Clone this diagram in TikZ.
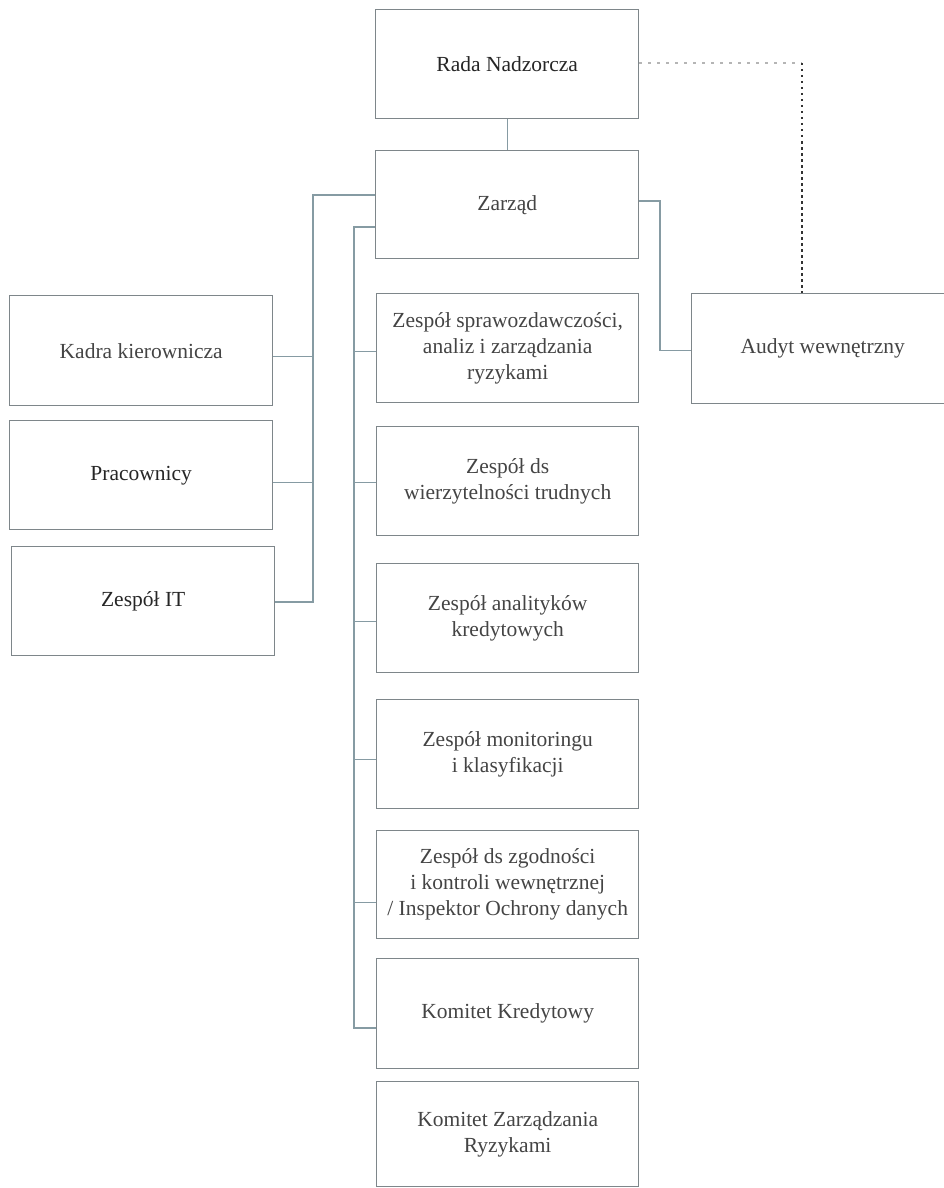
\documentclass[tikz,border=0pt]{standalone}
\usepackage{fontspec}
\setmainfont{Liberation Serif}
\definecolor{boxline}{HTML}{7E868A}
\definecolor{connline}{HTML}{869BA3}
\definecolor{txt}{HTML}{444444}
\definecolor{txtdark}{HTML}{262626}
\definecolor{dashlight}{HTML}{B5B5B5}
\definecolor{dotdark}{HTML}{333333}
\begin{document}
\begin{tikzpicture}[x=1pt,y=-1pt,
  unit/.style={draw=boxline, line width=1.4pt, rectangle, anchor=north west, inner sep=0pt,
    minimum width=#1, align=center, text=txt, font=\fontsize{21.5}{26}\selectfont},
  unit/.default={263pt},
  darktext/.style={text=txtdark},
  conn/.style={draw=connline, line width=1.3pt}]
\useasboundingbox (0,0) rectangle (943,1188);

\node[unit, minimum height=109pt, darktext] (rada) at (375,9) {Rada Nadzorcza};
\node[unit, minimum height=108pt] (zarzad) at (375,150) {Zarząd};

\node[unit, minimum height=110pt] (kadra) at (9,295) {Kadra kierownicza};
\node[unit, minimum height=109pt, darktext] (prac) at (9,420) {Pracownicy};
\node[unit, minimum height=109pt, darktext] (it) at (11,546) {Zespół IT};

\node[unit={262pt}, minimum height=110pt] (audyt) at (691,293) {Audyt wewnętrzny};

\node[unit={262pt}, minimum height=109pt] (z1) at (376,293) {Zespół sprawozdawczości,\\analiz i zarządzania\\ryzykami};
\node[unit={262pt}, minimum height=109pt] (z2) at (376,426) {Zespół ds\\wierzytelności trudnych};
\node[unit={262pt}, minimum height=109pt] (z3) at (376,563) {Zespół analityków\\kredytowych};
\node[unit={262pt}, minimum height=109pt] (z4) at (376,699) {Zespół monitoringu\\i klasyfikacji};
\node[unit={262pt}, minimum height=108pt] (z5) at (376,830) {Zespół ds zgodności\\i kontroli wewnętrznej\\/ Inspektor Ochrony danych};
\node[unit={262pt}, minimum height=110pt] (z6) at (376,958) {Komitet Kredytowy};
\node[unit={262pt}, minimum height=105pt] (z7) at (376,1081) {Komitet Zarządzania\\Ryzykami};

% Rada -> Zarzad
\draw[conn] (rada.south) -- (zarzad.north);

% left bus (Kadra, Pracownicy, IT)
\coordinate (lt) at (313,195);
\coordinate (lb) at (313,602);
\draw[conn] (zarzad.west |- lt) -- (lt) -- (lb) -- (it.east |- lb);
\draw[conn] ([yshift=-6pt]kadra.east) -- ([yshift=-6pt]kadra.east -| lt);
\draw[conn] ([yshift=-7pt]prac.east) -- ([yshift=-7pt]prac.east -| lt);

% middle bus
\coordinate (mt) at (354,227);
\coordinate (mb) at (354,1028);
\draw[conn] (zarzad.west |- mt) -- (mt) -- (mb) -- (z6.west |- mb);
\draw[conn] ([yshift=-3.5pt]z1.west) -- ([yshift=-3.5pt]z1.west -| mt);
\draw[conn] ([yshift=-1.5pt]z2.west) -- ([yshift=-1.5pt]z2.west -| mt);
\draw[conn] ([yshift=-3.5pt]z3.west) -- ([yshift=-3.5pt]z3.west -| mt);
\draw[conn] ([yshift=-5.5pt]z4.west) -- ([yshift=-5.5pt]z4.west -| mt);
\draw[conn] ([yshift=-18pt]z5.west) -- ([yshift=-18pt]z5.west -| mt);

% right: Zarzad -> Audyt
\coordinate (rt) at (660,201);
\draw[conn] (zarzad.east |- rt) -- (rt) |- ([yshift=-2pt]audyt.west);

% dotted: Rada -> Audyt
\coordinate (dc) at (802,63);
\draw[draw=dashlight, line width=1.2pt, dash pattern=on 3pt off 6pt] (rada.east |- dc) -- (dc);
\draw[draw=dotdark, line width=1.8pt, dash pattern=on 2.5pt off 3.5pt] (dc) -- (audyt.north -| dc);
\end{tikzpicture}
\end{document}
